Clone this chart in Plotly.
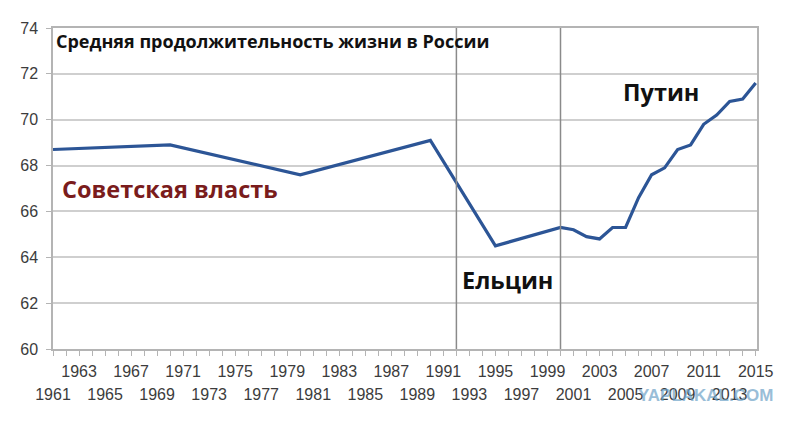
import plotly.graph_objects as go

years = [1961, 1970, 1980, 1990, 1995, 2000, 2001, 2002, 2003, 2004, 2005, 2006,
         2007, 2008, 2009, 2010, 2011, 2012, 2013, 2014, 2015]
life_expectancy = [68.7, 68.9, 67.6, 69.1, 64.5, 65.3, 65.2, 64.9, 64.8, 65.3, 65.3, 66.6,
                   67.6, 67.9, 68.7, 68.9, 69.8, 70.2, 70.8, 70.9, 71.6]
era_boundaries = [1992, 2000]
all_years = list(range(1961, 2016))
upper_row_years = [y for y in all_years if (y - 1961) % 4 == 2]
lower_row_years = [y for y in all_years if (y - 1961) % 4 == 0]
y_ticks = [60, 62, 64, 66, 68, 70, 72, 74]

title_text = "Средняя продолжительность жизни в России"
era_labels = ["Советская власть", "Ельцин", "Путин"]

AX = "#b4b4b4"
GRID = "#cfcfcf"
TICKFONT = dict(family="Liberation Sans, Arial", size=16, color="#3c3c3c")
XR = [1961, 2015.1]

fig = go.Figure()
fig.add_trace(go.Scatter(x=years, y=life_expectancy, mode="lines",
                         line=dict(color="#2c5596", width=3.2), hoverinfo="skip",
                         showlegend=False))
# helper invisible trace so that the second (lower row) x-axis is drawn
fig.add_trace(go.Scatter(x=[all_years[0]], y=[y_ticks[0]], xaxis="x2", mode="markers",
                         marker=dict(opacity=0), showlegend=False, hoverinfo="skip"))

for xb in era_boundaries:
    fig.add_shape(type="line", xref="x", yref="paper", x0=xb, x1=xb, y0=0, y1=1,
                  line=dict(color="#8a8a8a", width=1.5), layer="above")

fig.update_layout(
    width=800, height=426,
    margin=dict(l=37, r=51, t=16, b=85),
    paper_bgcolor="white", plot_bgcolor="white",
    xaxis=dict(range=XR, tickmode="array", tickvals=all_years,
               ticktext=[str(y) if y in upper_row_years else "" for y in all_years],
               ticks="outside", ticklen=5, tickcolor=AX, tickwidth=1,
               showline=True, linecolor=AX, linewidth=1.5, mirror=True,
               showgrid=False, zeroline=False, tickfont=TICKFONT, tickangle=0,
               ticklabelstandoff=2),
    xaxis2=dict(range=XR, overlaying="x", side="bottom", anchor="y",
                tickmode="array", tickvals=lower_row_years,
                ticktext=[str(y) for y in lower_row_years],
                ticks="", showline=False, showgrid=False, zeroline=False,
                tickfont=TICKFONT, tickangle=0, ticklabelstandoff=34),
    yaxis=dict(range=[60, 74], tickmode="array", tickvals=y_ticks,
               ticks="outside", ticklen=5, tickcolor=AX,
               showline=True, linecolor=AX, linewidth=1.5, mirror=True,
               showgrid=True, gridcolor=GRID, gridwidth=1.5, zeroline=False,
               tickfont=TICKFONT, ticklabelstandoff=5),
    font=dict(family="Open Sans"),
)

fig.add_annotation(x=1961.1, y=73.42, xref="x", yref="y", text="<b>" + title_text + "</b>",
                   showarrow=False, xanchor="left", yanchor="middle",
                   font=dict(family="Open Sans", size=18, color="#111111"))
fig.add_annotation(x=1970.0, y=67.0, xref="x", yref="y", text="<b>" + era_labels[0] + "</b>",
                   showarrow=False, xanchor="center", yanchor="middle",
                   font=dict(family="Open Sans", size=23.5, color="#7a1c1c"))
fig.add_annotation(x=1995.95, y=63.0, xref="x", yref="y", text="<b>" + era_labels[1] + "</b>",
                   showarrow=False, xanchor="center", yanchor="middle",
                   font=dict(family="Open Sans", size=23.5, color="#111111"))
fig.add_annotation(x=2007.7, y=71.2, xref="x", yref="y", text="<b>" + era_labels[2] + "</b>",
                   showarrow=False, xanchor="center", yanchor="middle",
                   font=dict(family="Open Sans", size=23.5, color="#111111"))
fig.add_annotation(x=0.927, y=-0.145, xref="paper", yref="paper", text="<b>YAPLAKAL.COM</b>",
                   showarrow=False, xanchor="center", yanchor="middle", opacity=0.7,
                   font=dict(family="Liberation Sans, Arial", size=17, color="#6fa3c8"))

fig.write_html("out.html")
